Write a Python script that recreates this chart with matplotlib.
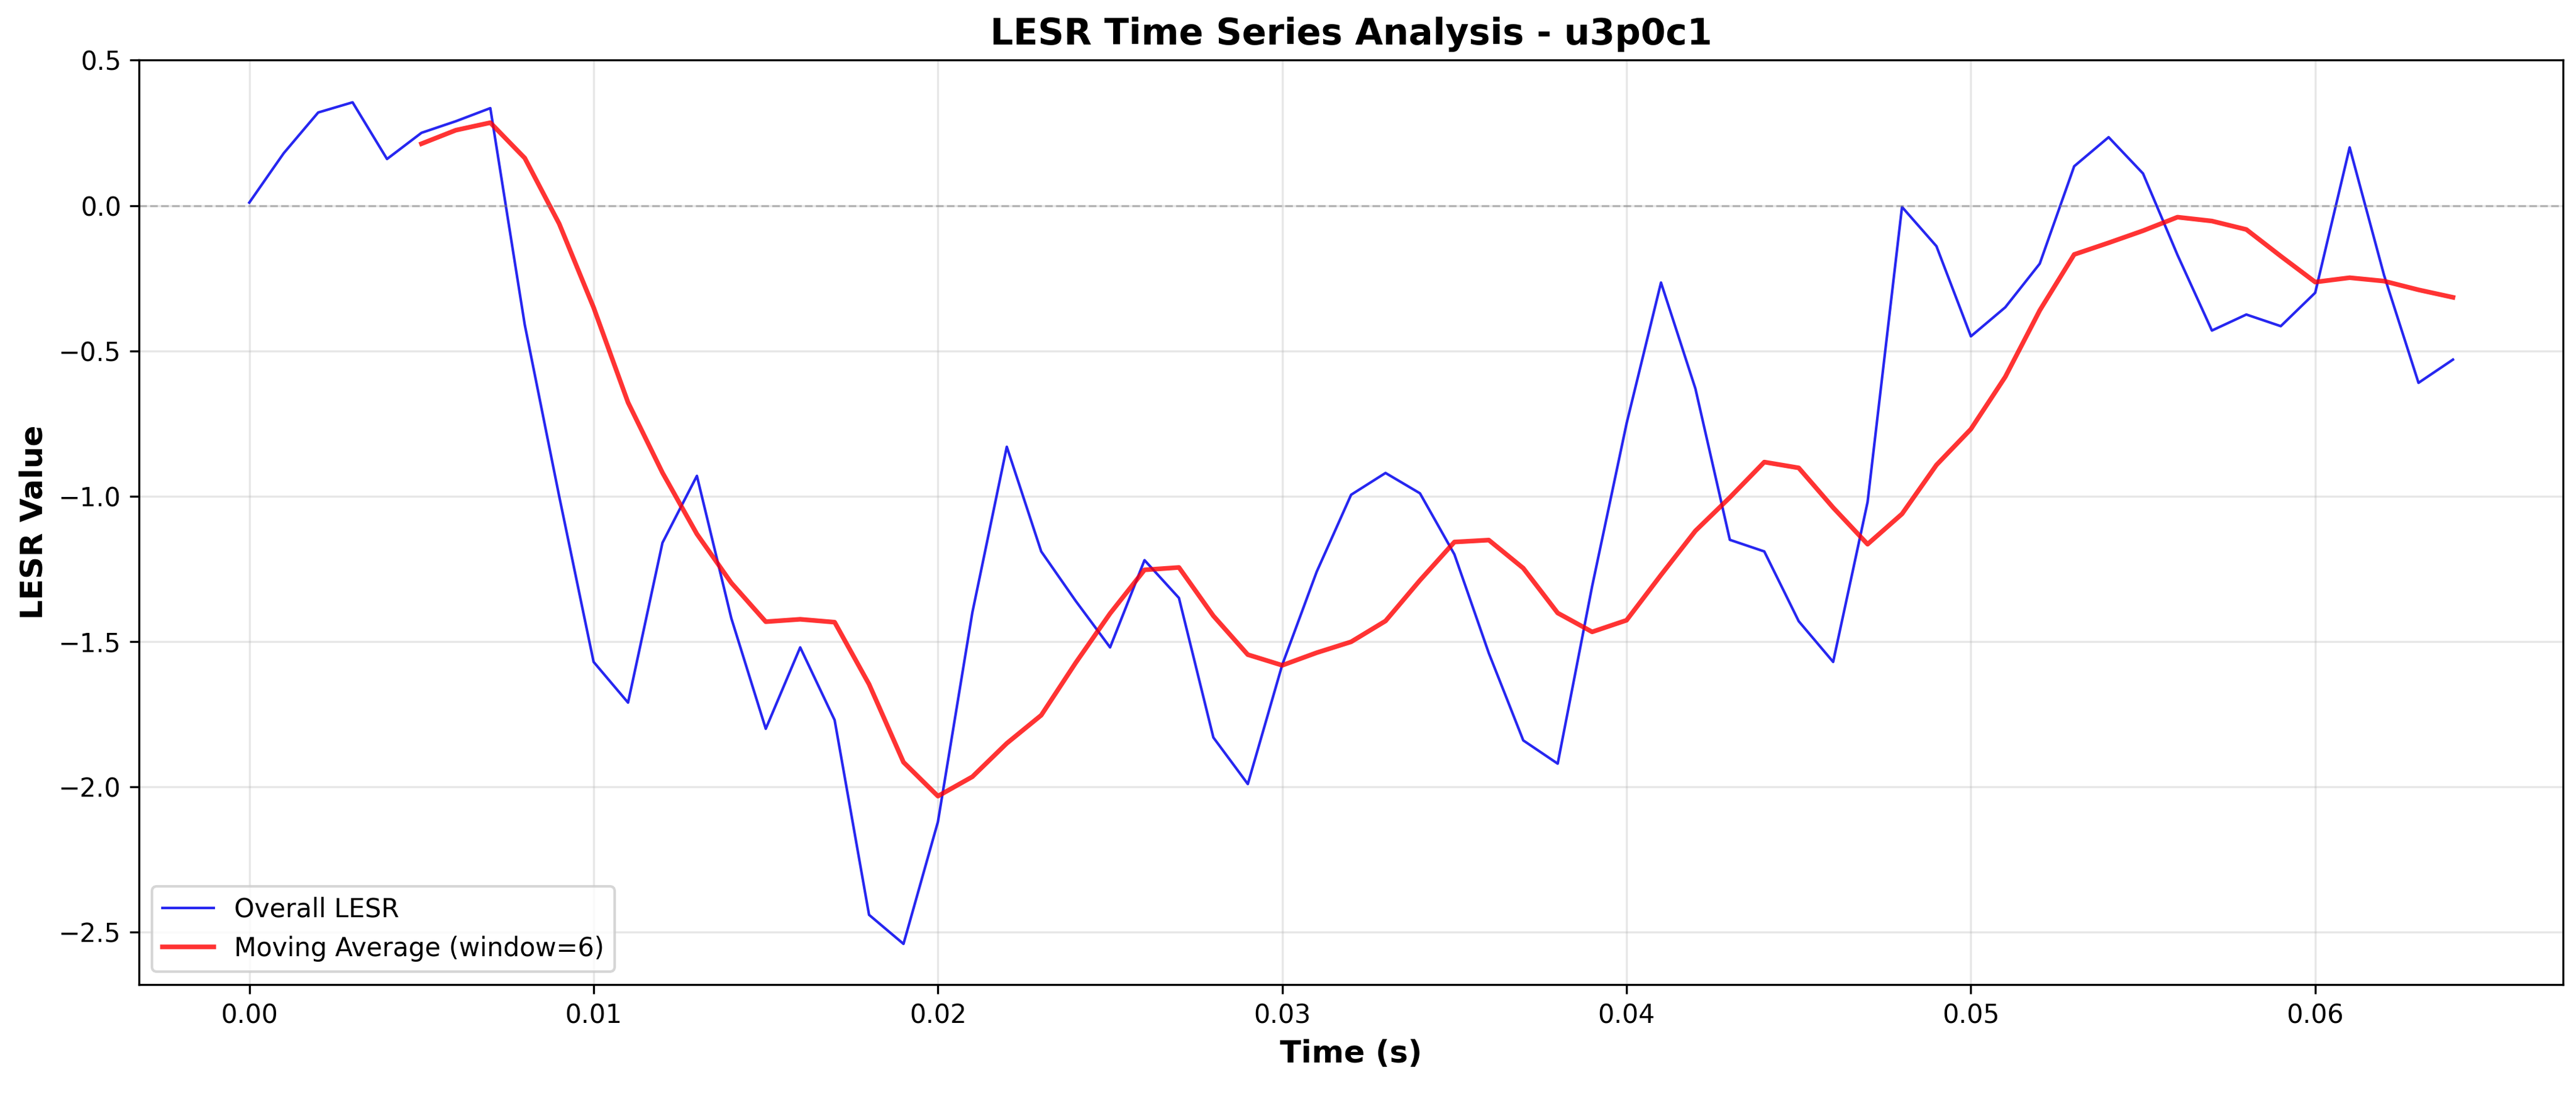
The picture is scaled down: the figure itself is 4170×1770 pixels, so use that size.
import numpy as np
import pandas as pd
import matplotlib
matplotlib.use("Agg")
import matplotlib.pyplot as plt

time_s = np.arange(65) * 0.001
lesr = [0.01, 0.18, 0.32, 0.355, 0.16, 0.25, 0.29, 0.335, -0.41, -1.0,
        -1.57, -1.71, -1.16, -0.93, -1.42, -1.80, -1.52, -1.77, -2.44, -2.54,
        -2.12, -1.40, -0.83, -1.19, -1.36, -1.52, -1.22, -1.35, -1.83, -1.99,
        -1.58, -1.26, -0.995, -0.92, -0.99, -1.20, -1.54, -1.84, -1.92, -1.31,
        -0.75, -0.265, -0.63, -1.15, -1.19, -1.43, -1.57, -1.02, -0.005, -0.14,
        -0.45, -0.35, -0.20, 0.135, 0.235, 0.11, -0.17, -0.43, -0.375, -0.415,
        -0.30, 0.20, -0.24, -0.61, -0.53]
window = 6
ma = pd.Series(lesr).rolling(window).mean()

fig, ax = plt.subplots(figsize=(13.9, 5.9), dpi=300)
ax.plot(time_s, lesr, color="#0000ee", alpha=0.85, lw=1.0, label="Overall LESR")
ax.plot(time_s, ma, color="red", alpha=0.8, lw=1.8, label=f"Moving Average (window={window})")
ax.axhline(0, color="gray", ls="--", alpha=0.5, lw=0.8)
ax.set_ylim(-2.68, 0.5)
ax.set_xlabel("Time (s)", fontsize=12, fontweight="bold")
ax.set_ylabel("LESR Value", fontsize=12, fontweight="bold")
ax.set_title("LESR Time Series Analysis - u3p0c1", fontsize=14, fontweight="bold")
ax.grid(True, alpha=0.3)
ax.legend(loc="lower left")
fig.subplots_adjust(left=0.054, right=0.995, bottom=0.1, top=0.945)
fig.savefig("out.png")
